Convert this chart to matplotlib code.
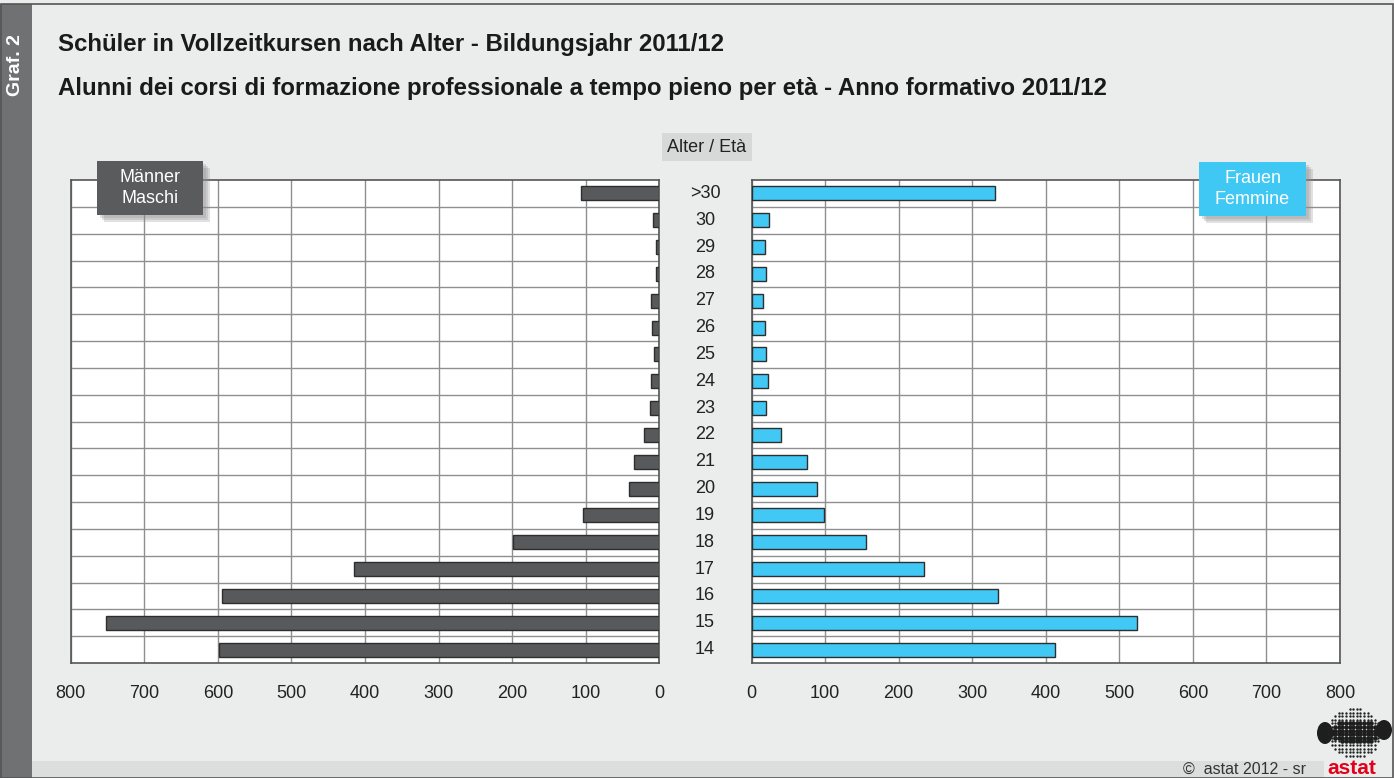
import matplotlib
matplotlib.use("Agg")
import matplotlib.pyplot as plt
from matplotlib.patches import Rectangle, Ellipse
import numpy as np

plt.rcParams['font.family'] = ['Liberation Sans', 'DejaVu Sans']

ages = ["14", "15", "16", "17", "18", "19", "20", "21", "22", "23", "24",
        "25", "26", "27", "28", "29", "30", ">30"]
males = [598, 752, 594, 415, 199, 104, 41, 34, 21, 13, 11, 7, 10, 11, 4, 5, 9, 107]
females = [413, 524, 335, 234, 156, 99, 89, 76, 40, 20, 22, 20, 19, 15, 20, 18, 24, 331]
xticks = [0, 100, 200, 300, 400, 500, 600, 700, 800]

title_de = "Schüler in Vollzeitkursen nach Alter - Bildungsjahr 2011/12"
title_it = "Alunni dei corsi di formazione professionale a tempo pieno per età - Anno formativo 2011/12"

W, H = 1394, 778
fig = plt.figure(figsize=(W / 100, H / 100), dpi=100)
fig.patch.set_facecolor("#ebecec")

def fx(x):
    return x / W

def fy(y):
    return 1 - y / H

# background decorations
bg = fig.add_axes([0, 0, 1, 1], zorder=-5)
bg.set_xlim(0, W)
bg.set_ylim(H, 0)
bg.axis("off")
bg.add_patch(Rectangle((32, 761), 1292, 17, color="#dcdddd", lw=0))
bg.add_patch(Rectangle((0, 4), 32, H - 4, color="#707172", lw=0))
bg.add_patch(Rectangle((0.5, 4), W - 1.5, H - 4.5, fill=False, ec="#555555", lw=1.2))
bg.add_patch(Rectangle((662, 133), 90, 28, color="#d7d8d8", lw=0))

axL = fig.add_axes([fx(70.7), fy(663), fx(588.7), (663 - 180) / H], zorder=1)
axR = fig.add_axes([fx(751.5), fy(663), fx(588.5), (663 - 180) / H], zorder=1)

y = np.arange(len(ages))
axL.barh(y, males, height=0.52, color="#58595b", edgecolor="#2e2e2e", linewidth=1, zorder=3)
axR.barh(y, females, height=0.52, color="#42c8f5", edgecolor="#2e2e2e", linewidth=1, zorder=3)

for ax in (axL, axR):
    ax.set_facecolor("white")
    ax.set_ylim(-0.5, len(ages) - 0.5)
    ax.set_xticks(xticks)
    ax.set_xticklabels([str(t) for t in xticks], fontsize=13, color="#222222")
    ax.tick_params(axis="x", length=0, pad=16)
    ax.set_yticks(y[:-1] + 0.5)
    ax.set_yticklabels([])
    ax.tick_params(axis="y", length=0)
    ax.grid(True, axis="both", color="#8f8f8f", linewidth=1, zorder=0)
    for s in ax.spines.values():
        s.set_color("#555555")
        s.set_linewidth(1.2)
    ax.set_axisbelow(True)

axL.set_xlim(800, 0)
axR.set_xlim(0, 800)

# overlay for legend boxes and logo
ov = fig.add_axes([0, 0, 1, 1], zorder=5)
ov.set_xlim(0, W)
ov.set_ylim(H, 0)
ov.axis("off")
ov.patch.set_alpha(0)

for dx in (3, 5, 7):
    ov.add_patch(Rectangle((97 + dx, 161 + dx), 106, 54, color="#8a8a8a", alpha=0.25, lw=0))
    ov.add_patch(Rectangle((1199 + dx, 162 + dx), 107, 54, color="#8a8a8a", alpha=0.25, lw=0))
ov.add_patch(Rectangle((97, 161), 106, 54, color="#5a5b5d", lw=0))
ov.add_patch(Rectangle((1199, 162), 107, 54, color="#40c8f4", lw=0))
ov.text(150, 188, "Männer\nMaschi", ha="center", va="center", fontsize=13,
        color="white", linespacing=1.35)
ov.text(1252.5, 189, "Frauen\nFemmine", ha="center", va="center", fontsize=13,
        color="white", linespacing=1.35)

# logo dot map
ov.add_patch(Ellipse((1325, 733), 16, 22, color="#1e1e1e", lw=0))
ov.add_patch(Ellipse((1384, 730), 16, 20, color="#1e1e1e", lw=0))
gx, gy = np.meshgrid(np.arange(1328, 1380, 3.6), np.arange(709, 762, 3.6))
gx = gx.ravel(); gy = gy.ravel()
outer = ((gx - 1354) ** 2 / 27 ** 2 + (gy - 733) ** 2 / 25 ** 2) < 1.0
dense = ((gx - 1356) ** 2 / 25 ** 2 + (gy - 732) ** 2 / 12 ** 2) < 1
ov.scatter(gx[outer], gy[outer], s=3, color="#222222", lw=0)
ov.scatter(gx[dense], gy[dense], s=11, color="#1e1e1e", lw=0)

# age labels
for i, a in enumerate(ages):
    yy = 663 - (i + 0.5) * (483 / len(ages))
    fig.text(fx(705), fy(yy), a, ha="center", va="center", fontsize=13, color="#222222")

fig.text(fx(707), fy(147), "Alter / Età", ha="center", va="center", fontsize=13, color="#222222")

fig.text(fx(58), fy(44), title_de, ha="left", va="center", fontsize=17.3,
         fontweight="bold", color="#1a1a1a")
fig.text(fx(58), fy(88), title_it, ha="left", va="center", fontsize=17.3,
         fontweight="bold", color="#1a1a1a")

fig.text(fx(16), fy(65), "Graf. 2", ha="center", va="center", rotation=90,
         fontsize=14, fontweight="bold", color="white")

fig.text(fx(1306), fy(769), "©  astat 2012 - sr", ha="right", va="center",
         fontsize=11.5, color="#333333")
fig.text(fx(1352), fy(769), "astat", ha="center", va="center", fontsize=15,
         fontweight="bold", color="#e2001a")

fig.savefig("out.png", dpi=100, facecolor=fig.get_facecolor())
